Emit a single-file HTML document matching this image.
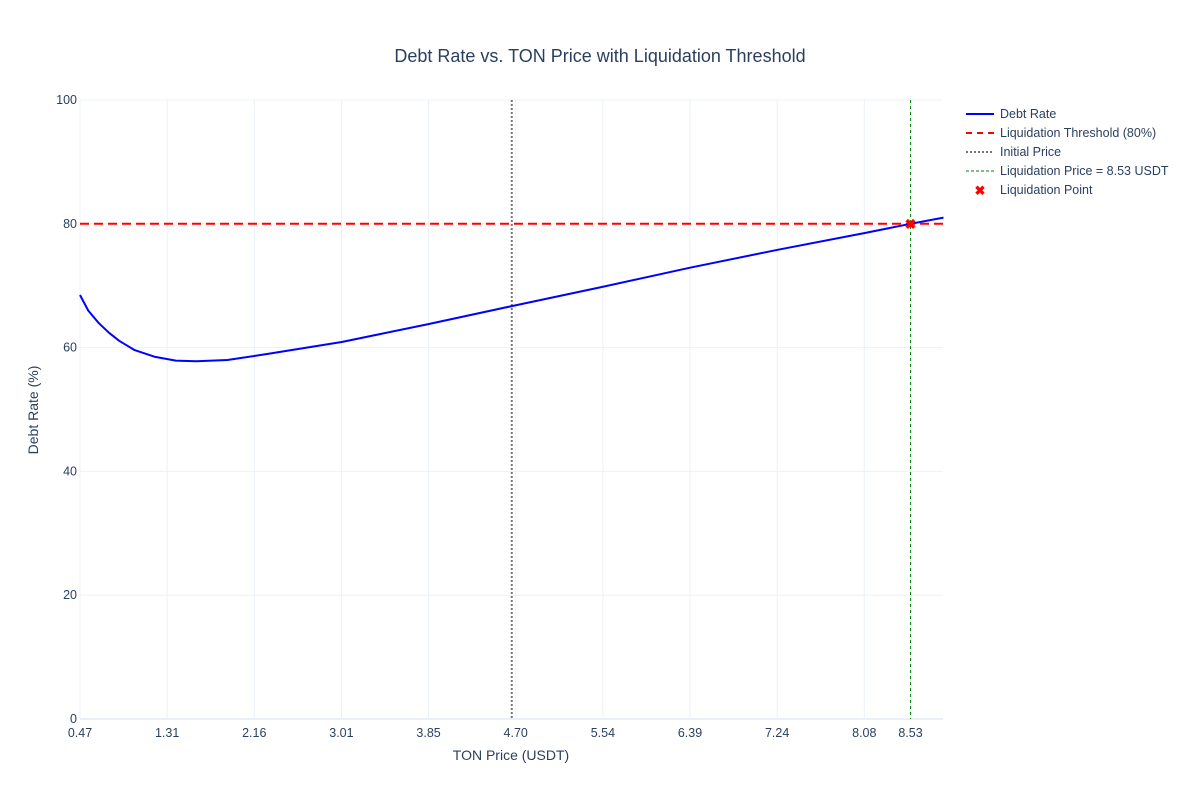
<!DOCTYPE html>
<html><head><meta charset="utf-8"><style>
body{margin:0;background:#fff;font-family:"Liberation Sans",sans-serif;}
svg text{font-family:"Liberation Sans",sans-serif;fill:#2a3f5f;}
</style></head><body>
<svg id="chart" width="1200" height="800">
<text x="600" y="62" text-anchor="middle" font-size="18">Debt Rate vs. TON Price with Liquidation Threshold</text>
<g id="grid"></g><g id="marks"></g><g id="axes"></g>
<text x="511" y="760" text-anchor="middle" font-size="14">TON Price (USDT)</text>
<text transform="translate(38,410) rotate(-90)" text-anchor="middle" font-size="14">Debt Rate (%)</text>
<g id="legend" font-size="12.5"></g>
</svg>
<script>
const prices=[0.47,0.55,0.65,0.75,0.85,1.0,1.2,1.4,1.6,1.9,2.3,3.01,3.85,4.66,5.54,6.39,7.24,8.08,8.53,8.85];
const debtRates=[68.5,66.0,64.0,62.4,61.1,59.6,58.5,57.9,57.8,58.0,59.0,60.9,63.8,66.7,69.8,72.9,75.8,78.5,80.0,81.0];
const xTicks=[0.47,1.3157,2.1614,3.0071,3.8528,4.6985,5.5442,6.3899,7.2356,8.0813,8.53];
const xTickLabels=["0.47","1.31","2.16","3.01","3.85","4.70","5.54","6.39","7.24","8.08","8.53"];
const yTicks=[0,20,40,60,80,100];
const threshold=80, initialPrice=4.66, liqPrice=8.53;
const X0=80,X1=943,Y0=719,Y1=100,xmin=0.47,xmax=8.845;
const sx=v=>X0+(v-xmin)/(xmax-xmin)*(X1-X0);
const sy=v=>Y0+(v-0)/(100)*(Y1-Y0);
const NS="http://www.w3.org/2000/svg";
function mk(tag,attrs,parent,txt){const e=document.createElementNS(NS,tag);for(const k in attrs)e.setAttribute(k,attrs[k]);if(txt!==undefined)e.textContent=txt;document.getElementById(parent).appendChild(e);return e;}
xTicks.forEach((t,i)=>{
 const g=mk('line',{x1:sx(t),x2:sx(t),y1:Y1,y2:Y0,stroke:'#ebf0f8','stroke-width':1},'grid');
 
 
 const l=mk('text',{x:sx(t),y:Y0+18,'text-anchor':'middle','font-size':12.5},'axes',xTickLabels[i]);
 
 
});
yTicks.forEach(t=>{
 const g=mk('line',{x1:X0,x2:X1,y1:sy(t),y2:sy(t),stroke:'#ebf0f8','stroke-width':t===0?2:1},'grid');
 
 
 const l=mk('text',{x:X0-3,y:sy(t)+4,'text-anchor':'end','font-size':12.5},'axes',String(t));
 
 
});
let e=mk('line',{x1:X0,x2:X1,y1:sy(threshold),y2:sy(threshold),stroke:'red','stroke-width':2,'stroke-dasharray':'9,5'},'marks');


e=mk('line',{x1:sx(initialPrice),x2:sx(initialPrice),y1:Y1,y2:Y0,stroke:'#777','stroke-width':2,'stroke-dasharray':'2,2'},'marks');


e=mk('line',{x1:sx(liqPrice),x2:sx(liqPrice),y1:Y1,y2:Y0,stroke:'green','stroke-width':1,'stroke-dasharray':'3,3'},'marks');


const pts=prices.map((p,i)=>sx(p).toFixed(1)+','+sy(debtRates[i]).toFixed(1)).join(' ');
e=mk('polyline',{points:pts,fill:'none',stroke:'blue','stroke-width':2,'stroke-linejoin':'round'},'marks');


e=mk('text',{x:sx(liqPrice),y:sy(threshold)+5,'text-anchor':'middle','font-size':14,style:'fill:red;font-weight:bold'},'marks','✖');


const leg=[["Debt Rate",'blue',2,''],["Liquidation Threshold (80%)",'red',2,'6,5'],["Initial Price",'#777',2,'2,2'],["Liquidation Price = 8.53 USDT",'green',1,'3,2'],["Liquidation Point",null]];
leg.forEach((d,i)=>{const y=114+i*19;
 if(d[1]){const l=mk('line',{x1:966,x2:994,y1:y,y2:y,stroke:d[1],'stroke-width':d[2],'stroke-dasharray':d[3]},'legend');
  
  }
 else{const m=mk('text',{x:980,y:y+5,'text-anchor':'middle','font-size':13,style:'fill:red;font-weight:bold'},'legend','✖');
  
  }
 const t=mk('text',{x:1000,y:y+4},'legend',d[0]);
 
 
});
</script>
</body></html>
